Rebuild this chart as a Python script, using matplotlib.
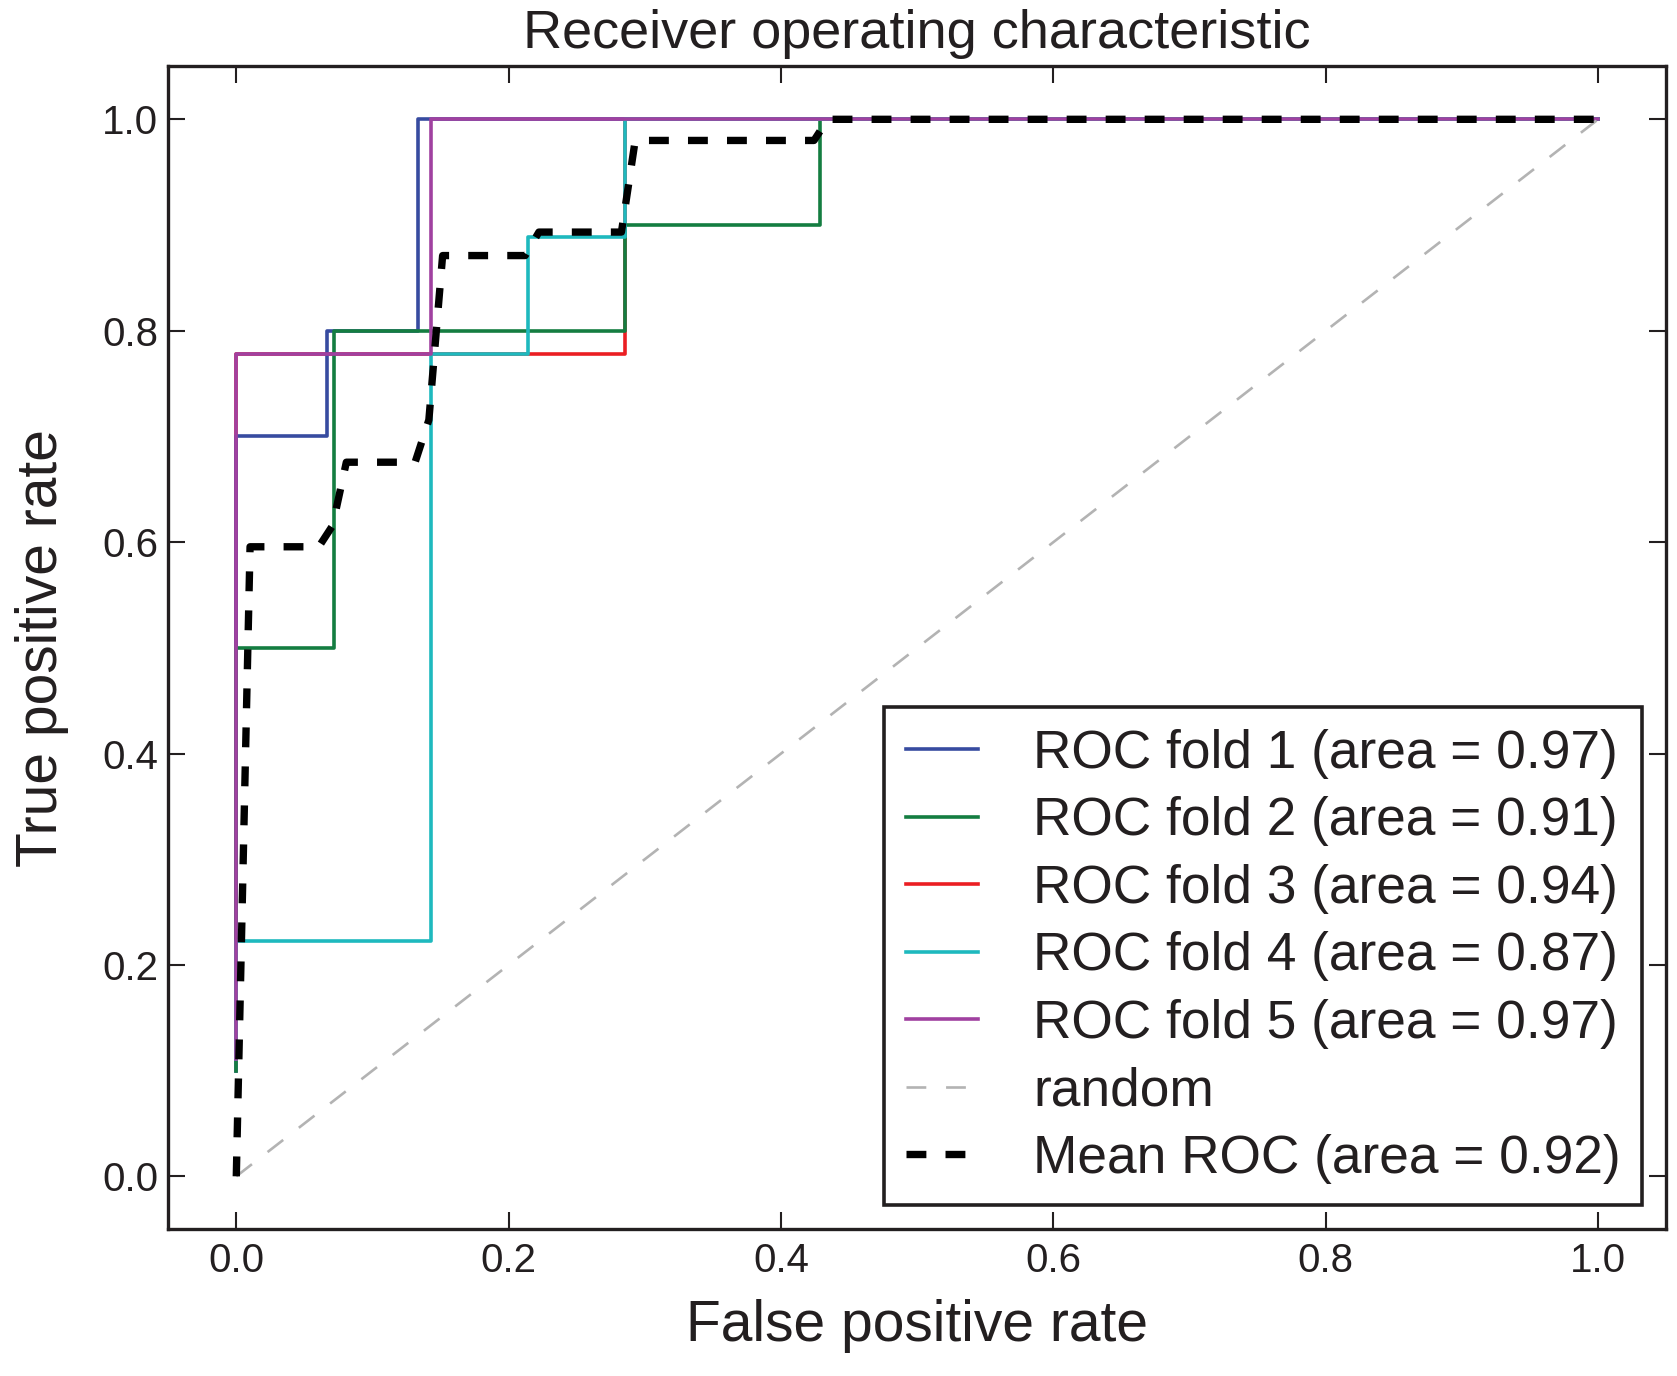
import numpy as np
import matplotlib
matplotlib.use('Agg')
import matplotlib.pyplot as plt

# ROC curves of the five folds (fpr / tpr steps)
fold1_fpr = [0.0, 0.0, 1/15, 1/15, 2/15, 2/15, 1.0]
fold1_tpr = [0.1, 0.7, 0.7, 0.8, 0.8, 1.0, 1.0]

fold2_fpr = [0.0, 0.0, 1/14, 1/14, 4/14, 4/14, 6/14, 6/14, 1.0]
fold2_tpr = [0.1, 0.5, 0.5, 0.8, 0.8, 0.9, 0.9, 1.0, 1.0]

fold3_fpr = [0.0, 0.0, 4/14, 4/14, 1.0]
fold3_tpr = [1/9, 7/9, 7/9, 1.0, 1.0]

fold4_fpr = [0.0, 0.0, 2/14, 2/14, 3/14, 3/14, 4/14, 4/14, 1.0]
fold4_tpr = [1/9, 2/9, 2/9, 7/9, 7/9, 8/9, 8/9, 1.0, 1.0]

fold5_fpr = [0.0, 0.0, 2/14, 2/14, 1.0]
fold5_tpr = [1/9, 7/9, 7/9, 1.0, 1.0]

fold_auc = [0.97, 0.91, 0.94, 0.87, 0.97]

# mean ROC corners
mean_fpr = [0.0, 0.0101, 0.0606, 0.0707, 0.0808, 0.1313, 0.1414, 0.1515,
            0.2121, 0.2222, 0.2828, 0.2929, 0.4242, 0.4343, 1.0]
mean_tpr = [0.0, 0.5956, 0.5956, 0.6156, 0.6756, 0.6756, 0.7156, 0.8711,
            0.8711, 0.8933, 0.8933, 0.98, 0.98, 1.0, 1.0]
mean_auc = 0.92

colors = ['#374ba0', '#147d41', '#eb1e23', '#1eb9be', '#a041a0']
ink = '#231f20'

plt.rcParams['font.family'] = ['Liberation Sans', 'DejaVu Sans']
plt.rcParams['text.color'] = ink
plt.rcParams['axes.labelcolor'] = ink
plt.rcParams['xtick.color'] = ink
plt.rcParams['ytick.color'] = ink

fig = plt.figure(figsize=(16.77, 13.76), dpi=100, facecolor='white')
ax = fig.add_axes([0.1003, 0.1067, 0.8933, 0.845])

folds = [(fold1_fpr, fold1_tpr), (fold2_fpr, fold2_tpr), (fold3_fpr, fold3_tpr),
         (fold4_fpr, fold4_tpr), (fold5_fpr, fold5_tpr)]
draw_order = [2, 0, 1, 3, 4]
lines = {}
for i in draw_order:
    fpr, tpr = folds[i]
    lines[i], = ax.plot(fpr, tpr, color=colors[i], lw=2.6,
                        label='ROC fold %d (area = %0.2f)' % (i + 1, fold_auc[i]))

rnd, = ax.plot([0, 1], [0, 1], '--', color='#b3b3b3', lw=1.9,
               dashes=(7.5, 7.5), label='random')
mean_line, = ax.plot(mean_fpr, mean_tpr, 'k--', lw=5.3, dashes=(2.7, 2.6),
                     label='Mean ROC (area = %0.2f)' % mean_auc)

ax.set_xlim(-0.05, 1.05)
ax.set_ylim(-0.05, 1.05)
ax.set_xticks(np.arange(0, 1.01, 0.2))
ax.set_yticks(np.arange(0, 1.01, 0.2))
ax.tick_params(direction='in', top=True, right=True, length=12, width=1.5,
               labelsize=29)
ax.tick_params(axis='x', pad=9)
ax.tick_params(axis='y', pad=7)
for s in ax.spines.values():
    s.set_linewidth(2.4)
    s.set_color(ink)

ax.set_xlabel('False positive rate', fontsize=41, labelpad=14)
ax.set_ylabel('True positive rate', fontsize=41, labelpad=24)
ax.set_title('Receiver operating characteristic', fontsize=39, pad=13)

handles = [lines[i] for i in range(5)] + [rnd, mean_line]
leg = ax.legend(handles=handles, loc='lower right', fontsize=38.3,
                fancybox=False, framealpha=1, edgecolor=ink,
                borderaxespad=0.45, handlelength=1.35, handletextpad=1.05,
                labelspacing=0.33, borderpad=0.4)
leg.get_frame().set_linewidth(2.6)

fig.savefig('out.png', dpi=100, facecolor='white')
